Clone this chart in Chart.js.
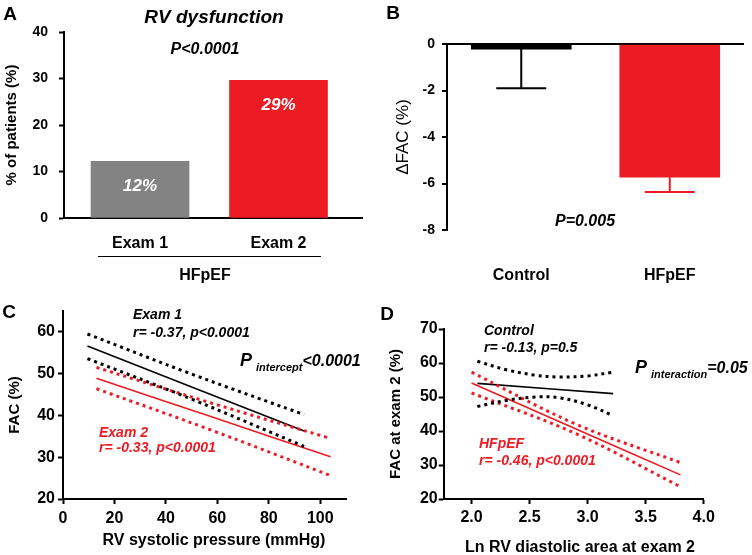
<!DOCTYPE html>
<html>
<head>
<meta charset="utf-8">
<script src="https://cdn.jsdelivr.net/npm/chart.js@4"></script>
<style>
  html, body { margin: 0; padding: 0; background: #fff; width: 752px; height: 555px; overflow: hidden; }
  #wrap { position: relative; width: 752px; height: 555px; }
  canvas { position: absolute; left: 0; top: 0; }
  .t { position: absolute; font-family: Arial, "Liberation Sans", Helvetica, sans-serif; font-weight: bold;
       white-space: nowrap; line-height: 1; transform: translateY(-50%); color: #000; }
  .c { transform: translate(-50%, -50%); }
  .i { font-style: italic; }
  .red { color: #ed1c24; }
  .sub { font-size: 11px; position: relative; top: 5px; margin-left: 4px; }
</style>
</head>
<body>
<div id="wrap">
  <canvas id="chartA" width="752" height="580"></canvas>
  <canvas id="chartB" width="752" height="580"></canvas>
  <canvas id="chartC" width="752" height="580"></canvas>
  <canvas id="chartD" width="752" height="580"></canvas>

  <!-- panel A -->
  <div class="t c" style="left:10px;top:13px;font-size:19px">A</div>
  <div class="t c i" style="left:214px;top:16px;font-size:19px">RV dysfunction</div>
  <div class="t c i" style="left:205px;top:49px;font-size:16px">P&lt;0.0001</div>
  <div style="position:absolute;left:98px;top:256px;width:223px;border-top:1px solid #000"></div>
  <div class="t c" style="left:205px;top:275px;font-size:16px">HFpEF</div>

  <!-- panel B -->
  <div class="t c" style="left:393px;top:12px;font-size:19px">B</div>
  <div class="t c i" style="left:585px;top:221px;font-size:16px">P=0.005</div>

  <!-- panel C -->
  <div class="t c" style="left:9px;top:311px;font-size:19px">C</div>
  <div class="t i" style="left:133px;top:314px;font-size:14px">Exam 1</div>
  <div class="t i" style="left:133px;top:332px;font-size:14px">r= -0.37, p&lt;0.0001</div>
  <div class="t i" style="left:240px;top:360px;font-size:16px"><span style="font-size:18px">P</span><span class="sub">intercept</span>&lt;0.0001</div>
  <div class="t i red" style="left:99px;top:432px;font-size:14px">Exam 2</div>
  <div class="t i red" style="left:99px;top:447px;font-size:14px">r= -0.33, p&lt;0.0001</div>
  <div class="t c" style="left:214px;top:540px;font-size:16px">RV systolic pressure (mmHg)</div>

  <!-- panel D -->
  <div class="t c" style="left:387px;top:313px;font-size:19px">D</div>
  <div class="t i" style="left:484px;top:330px;font-size:14px">Control</div>
  <div class="t i" style="left:484px;top:347px;font-size:14px">r= -0.13, p=0.5</div>
  <div class="t i" style="left:635px;top:367px;font-size:16px"><span style="font-size:18px">P</span><span class="sub">interaction</span>=0.05</div>
  <div class="t i red" style="left:479px;top:443px;font-size:14px">HFpEF</div>
  <div class="t i red" style="left:479px;top:460px;font-size:14px">r= -0.46, p&lt;0.0001</div>
  <div class="t c" style="left:580px;top:547px;font-size:16px">Ln RV diastolic area at exam 2</div>
</div>

<script>
'use strict';

// ---- panel A: RV dysfunction
const catsA = ['Exam 1', 'Exam 2'];
const pctA = [12.2, 29.6];
const pctLabelsA = ['12%', '29%'];
const ticksA = [0, 10, 20, 30, 40];

// ---- panel B: change in FAC
const catsB = ['Control', 'HFpEF'];
const dfacB = [-0.22, -5.73];
const dfacErrB = [-1.9, -6.37];
const ticksB = [-8, -6, -4, -2, 0];

// ---- panel C: FAC vs RV systolic pressure
const ticksCx = [0, 20, 40, 60, 80, 100];
const ticksCy = [20, 30, 40, 50, 60];
const exam1X = [9.5, 50, 93.7];
const exam1Fit = [56.6, 46.8, 36.3];
const exam1Upper = [59.5, 49.9, 40.2];
const exam1Lower = [53.6, 43.9, 32.6];
const exam2X = [13, 58, 104];
const exam2Fit = [48.9, 39.6, 30.1];
const exam2Upper = [51.5, 42.9, 34.5];
const exam2Lower = [46.4, 36.4, 25.6];

// ---- panel D: FAC at exam 2 vs ln RV diastolic area
const ticksDx = [2.0, 2.5, 3.0, 3.5, 4.0];
const ticksDy = [20, 30, 40, 50, 60, 70];
const ctrlFitX = [2.05, 3.22];
const ctrlFit = [54.0, 51.0];
const ctrlBandX = [2.05, 2.3, 2.55, 2.75, 3.0, 3.22];
const ctrlUpper = [60.5, 58.0, 56.4, 55.9, 56.2, 57.3];
const ctrlLower = [47.2, 49.0, 50.0, 49.8, 47.7, 44.5];
const hfX = [2.0, 2.9, 3.8];
const hfFit = [54.1, 40.6, 27.1];
const hfUpper = [57.3, 42.0, 30.7];
const hfLower = [51.2, 39.2, 23.6];

const W = 752, H = 580;
const RED = '#ed1c24';
const GRAY = '#838383';

Chart.defaults.font.family = 'Arial, "Liberation Sans", Helvetica, sans-serif';
Chart.defaults.font.weight = 'bold';
Chart.defaults.color = '#000';

function mergeDeep(target, source) {
    const result = { ...target };
    for (const key of Object.keys(source)) {
        if (source[key] && typeof source[key] === 'object' && !Array.isArray(source[key])) {
            result[key] = mergeDeep(target[key] || {}, source[key]);
        } else {
            result[key] = source[key];
        }
    }
    return result;
}

// plot box in page pixels -> layout padding, with fixed axis sizes
function fixedPadding(box, yW, xH) {
    return { left: box.l - yW, top: box.t, right: W - box.r, bottom: H - box.b - xH };
}

function baseAxis(size, pad) {
    return {
        border: { display: true, color: '#000', width: 2 },
        grid: { drawOnChartArea: false, drawTicks: true, tickLength: 5, tickWidth: 2, tickColor: '#000', color: '#000' },
        ticks: { color: '#000', padding: pad, font: { size, weight: 'bold' }, autoSkip: false, maxRotation: 0 }
    };
}

function setTicks(values) {
    return scale => { scale.ticks = values.map(v => ({ value: v })); };
}

function baseOptions(padding) {
    return {
        responsive: false,
        animation: false,
        events: [],
        layout: { padding },
        plugins: { legend: { display: false }, tooltip: { enabled: false } },
    };
}

function lineSet(xs, ys, color, dotted) {
    return {
        data: xs.map((x, i) => ({ x, y: ys[i] })),
        borderColor: color,
        borderWidth: dotted ? 3 : 1.6,
        borderDash: dotted ? [3, 4] : [],
        borderCapStyle: 'butt',
        showLine: true,
        pointRadius: 0,
        tension: 0.35,
        fill: false,
    };
}

const barLabelPlugin = {
    id: 'barLabel',
    afterDatasetsDraw(chart) {
        const ctx = chart.ctx;
        const meta = chart.getDatasetMeta(0);
        ctx.save();
        ctx.font = 'italic bold 17px Arial, "Liberation Sans", sans-serif';
        ctx.fillStyle = '#fff';
        ctx.textAlign = 'center';
        ctx.textBaseline = 'middle';
        meta.data.forEach((bar, i) => ctx.fillText(pctLabelsA[i], bar.x, bar.y + 25));
        ctx.restore();
    }
};

const errorBarPlugin = {
    id: 'errorBars',
    afterDatasetsDraw(chart) {
        const ctx = chart.ctx;
        const y = chart.scales.y;
        const meta = chart.getDatasetMeta(0);
        const colors = ['#000', RED];
        ctx.save();
        ctx.lineWidth = 2;
        meta.data.forEach((bar, i) => {
            const yEnd = y.getPixelForValue(dfacErrB[i]);
            ctx.strokeStyle = colors[i];
            ctx.beginPath();
            ctx.moveTo(bar.x, bar.y);
            ctx.lineTo(bar.x, yEnd);
            ctx.moveTo(bar.x - 25, yEnd);
            ctx.lineTo(bar.x + 25, yEnd);
            ctx.stroke();
        });
        ctx.restore();
    }
};

// ---- A
const boxA = { l: 64, t: 32, r: 362, b: 218 };
new Chart(document.getElementById('chartA'), {
    type: 'bar',
    data: {
        datasets: [{
            data: pctA.map((v, i) => ({ x: i, y: v })),
            backgroundColor: [GRAY, RED],
            barThickness: 98,
        }]
    },
    options: mergeDeep(baseOptions(fixedPadding(boxA, 61, 40)), {
        scales: {
            x: mergeDeep(baseAxis(16, 16), {
                type: 'linear', min: -0.549, max: 1.603, offset: false,
                grid: { drawTicks: false, offset: false },
                afterBuildTicks: setTicks(catsA.map((c, i) => i)),
                ticks: { callback: v => catsA[v] },
                afterFit: s => { s.height = 40; }
            }),
            y: mergeDeep(baseAxis(14, 11), {
                min: 0, max: 40,
                afterBuildTicks: setTicks(ticksA),
                title: { display: true, text: '% of patients (%)', font: { size: 15, weight: 'bold' }, padding: 0 },
                afterFit: s => { s.width = 61; }
            })
        }
    }),
    plugins: [barLabelPlugin]
});

// ---- B
const boxB = { l: 447, t: 44, r: 744, b: 230 };
new Chart(document.getElementById('chartB'), {
    type: 'bar',
    data: {
        labels: catsB,
        datasets: [{ data: dfacB, backgroundColor: ['#000', RED], barThickness: 100 }]
    },
    options: mergeDeep(baseOptions(fixedPadding(boxB, 54.2, 64)), {
        scales: {
            x: {
                border: { display: false },
                grid: { display: false, drawTicks: false },
                ticks: { padding: 36, font: { size: 16, weight: 'bold' }, color: '#000', maxRotation: 0 },
                afterFit: s => { s.height = 64; }
            },
            y: mergeDeep(baseAxis(14, 7), {
                min: -8, max: 0,
                afterBuildTicks: setTicks(ticksB),
                grid: {
                    drawOnChartArea: true,
                    lineWidth: 2,
                    color: c => (c.tick && c.tick.value === 0 ? '#000' : 'rgba(0,0,0,0)'),
                },
                title: { display: true, text: '\u0394FAC (%)', font: { size: 17, weight: 'normal' }, padding: 0 },
                afterFit: s => { s.width = 54.2; }
            })
        }
    }),
    plugins: [errorBarPlugin]
});

// ---- C
const boxC = { l: 63, t: 311, r: 346, b: 499 };
new Chart(document.getElementById('chartC'), {
    type: 'scatter',
    data: {
        datasets: [
            lineSet(exam1X, exam1Upper, '#000', true),
            lineSet(exam1X, exam1Lower, '#000', true),
            lineSet(exam2X, exam2Upper, RED, true),
            lineSet(exam2X, exam2Lower, RED, true),
            lineSet(exam1X, exam1Fit, '#000', false),
            lineSet(exam2X, exam2Fit, RED, false),
        ]
    },
    options: mergeDeep(baseOptions(fixedPadding(boxC, 57, 40)), {
        scales: {
            x: mergeDeep(baseAxis(16, 5), {
                type: 'linear', min: 0, max: 110,
                afterBuildTicks: setTicks(ticksCx),
                afterFit: s => { s.height = 40; }
            }),
            y: mergeDeep(baseAxis(16, 3), {
                min: 20, max: 65,
                afterBuildTicks: setTicks(ticksCy),
                title: { display: true, text: 'FAC (%)', font: { size: 15, weight: 'bold' }, padding: 0 },
                afterFit: s => { s.width = 57; }
            })
        }
    })
});

// ---- D
const boxD = { l: 443.7, t: 329, r: 703.7, b: 499 };
new Chart(document.getElementById('chartD'), {
    type: 'scatter',
    data: {
        datasets: [
            lineSet(ctrlBandX, ctrlUpper, '#000', true),
            lineSet(ctrlBandX, ctrlLower, '#000', true),
            lineSet(hfX, hfUpper, RED, true),
            lineSet(hfX, hfLower, RED, true),
            lineSet(ctrlFitX, ctrlFit, '#000', false),
            lineSet(hfX, hfFit, RED, false),
        ]
    },
    options: mergeDeep(baseOptions(fixedPadding(boxD, 56.7, 40)), {
        scales: {
            x: mergeDeep(baseAxis(16, 4), {
                type: 'linear', min: 1.76, max: 4.0,
                afterBuildTicks: setTicks(ticksDx),
                ticks: { callback: v => Number(v).toFixed(1) },
                afterFit: s => { s.height = 40; }
            }),
            y: mergeDeep(baseAxis(16, 1), {
                min: 20, max: 70,
                afterBuildTicks: setTicks(ticksDy),
                title: { display: true, text: 'FAC at exam 2 (%)', font: { size: 15, weight: 'bold' }, padding: 0 },
                afterFit: s => { s.width = 56.7; }
            })
        }
    })
});
</script>
</body>
</html>
